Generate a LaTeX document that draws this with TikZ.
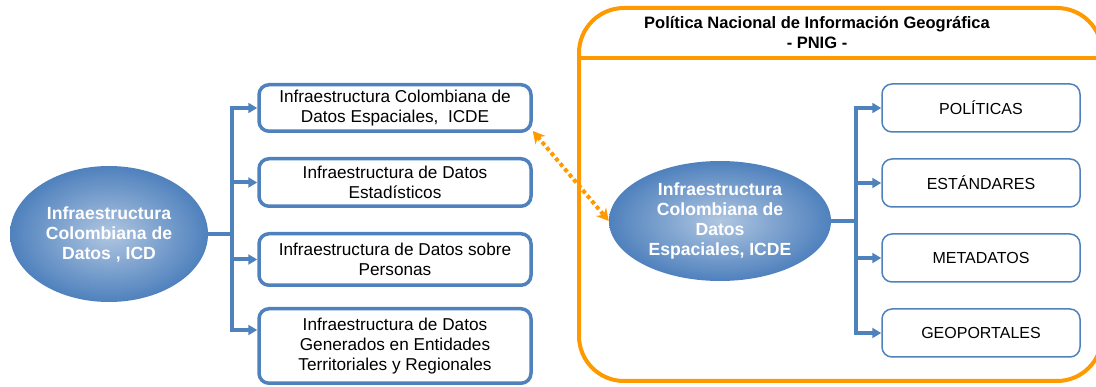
\documentclass[tikz,border=0pt]{standalone}
\usepackage{fontspec}
\setmainfont{Liberation Sans}
\usetikzlibrary{arrows.meta, positioning, shapes.geometric}

\definecolor{icdblue}{RGB}{79,129,189}
\definecolor{pnigorange}{RGB}{255,153,0}

\begin{document}
\begin{tikzpicture}[x=1pt,y=-1pt,>={Triangle[length=9pt,width=10pt]},
 infra node/.style={ellipse,inner sep=0pt,inner color=icdblue!45!white,
   outer color=icdblue,text=white,align=center,
   font=\fontsize{17.6}{20}\selectfont\bfseries},
 sub node/.style={rectangle,rounded corners=10pt,draw=icdblue,line width=3.5pt,
   fill=white,minimum width=272pt,align=center,font=\fontsize{17.2}{20}\selectfont},
 item node/.style={rectangle,rounded corners=10pt,draw=icdblue,line width=1.5pt,
   minimum width=198pt,minimum height=48pt,font=\fontsize{16}{20}\selectfont},
 link/.style={draw=icdblue,line width=4pt},
 node distance=24pt]
\useasboundingbox (0,0) rectangle (1096,387);

% left part
\node[infra node,minimum width=198pt,minimum height=136pt](ICD) at (109,234)
  {Infraestructura\\Colombiana de\\Datos , ICD};
\node[sub node,minimum height=46.5pt](icde) at (395,108)
  {Infraestructura Colombiana de\\Datos Espaciales,\ \ ICDE};
\node[sub node,minimum height=47.5pt](estad)[below=of icde]
  {Infraestructura\ de Datos\\Estadísticos};
\node[sub node,minimum height=51.5pt](pers)[below=of estad]
  {Infraestructura de Datos sobre\\Personas};
\node[sub node,minimum height=74.5pt](terr)[below=20pt of pers]
  {Infraestructura de Datos\\Generados en Entidades\\Territoriales y Regionales};
\coordinate (terrIn) at ([yshift=16pt]terr.west);

\coordinate (jL) at (232,234);
\draw[link] (ICD.east) -- (jL);
\draw[link,line cap=rect] (jL |- icde) -- (jL |- terrIn);
\foreach \t in {icde.west,estad.west,pers.west,terrIn}{
    \draw[link,->] (jL |- \t) -- (\t);}

% PNIG frame
\node[draw=pnigorange,line width=4pt,rounded corners=45pt,outer sep=0pt,
  minimum width=523pt,minimum height=373pt](pnig) at (840.5,194.5){};
\draw[pnigorange,line width=4pt] (pnig.west |- 0,58) -- (pnig.east |- 0,58);
\node[align=center,font=\fontsize{16.5}{20}\selectfont\bfseries](title) at (817,33)
  {Política Nacional de Información Geográfica\\- PNIG -};

\node[infra node,minimum width=222pt,minimum height=120pt](icdeR) at (720,221)
  {Infraestructura\\Colombiana de\\Datos\\Espaciales, ICDE};
\foreach \n/\t [count=\i] in {pol/POLÍTICAS, estd/ESTÁNDARES, meta/METADATOS, geo/GEOPORTALES}{
    \node[item node](\n) at (981,{108+75*(\i-1)}){\t};}

\coordinate (jR) at (856,221);
\draw[link] (icdeR.east) -- (jR);
\draw[link,line cap=rect] (jR |- pol) -- (jR |- geo);
\foreach \n in {pol,estd,meta,geo}{
    \draw[link,->] (jR |- \n) -- (\n.west);}

% link between both ICDE
\draw[pnigorange,line width=4pt,dash pattern=on 4pt off 3pt,
  {Stealth[length=12pt,width=13pt]}-{Stealth[length=12pt,width=13pt]}]
  ([yshift=2pt]icde.south east) -- (icdeR.west);
\end{tikzpicture}
\end{document}
